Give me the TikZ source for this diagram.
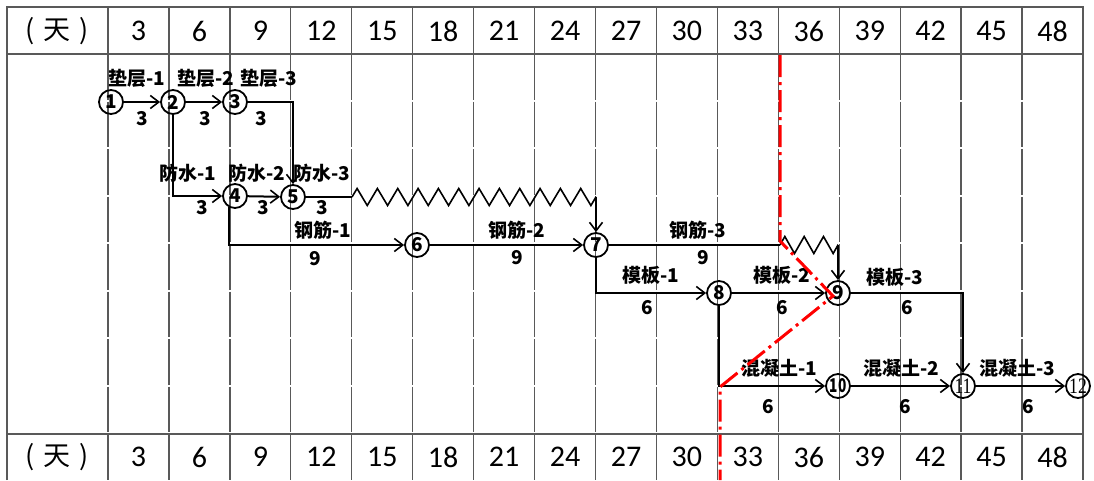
\documentclass[tikz,border=0pt]{standalone}
\usepackage{fontspec}
\usepackage{graphicx}
\newfontfamily\cjk{Noto Sans CJK SC}
\newfontfamily\hdr{Carlito}
\newfontfamily\nserif{Liberation Serif}
\usetikzlibrary{arrows.meta,decorations.pathmorphing}
\begin{document}
\begin{tikzpicture}[x=1pt,y=-1pt,
  grid/.style={draw=black!65, line width=1.3pt},
  bodygrid/.style={grid, dash pattern=on 45.5pt off 2pt},
  conn/.style={line width=2pt, black},
  arr/.style={conn, -{Straight Barb[length=8.5pt,width=13pt,line width=1.6pt]}},
  ev/.style={circle, draw, line width=1.8pt, minimum size=24pt, inner sep=0pt, font=\cjk\bfseries\fontsize{19}{19}\selectfont},
  lab/.style={inner sep=0pt, font=\cjk\bfseries\fontsize{19}{19}\selectfont},
  hd/.style={inner sep=0pt, font=\hdr\fontsize{30}{30}\selectfont},
  hdz/.style={inner sep=0pt, font=\cjk\fontsize{27}{27}\selectfont},
  wave/.style={line width=1.6pt, decorate, decoration={zigzag, amplitude=8.5pt, segment length=#1}},
  crit/.style={red, line width=3pt, dash pattern=on 22pt off 5pt on 3pt off 5pt}
]
\useasboundingbox (0,0) rectangle (1094,480);
% grid
\draw[grid] (7,480) -- (7,7) -- (1083,7) -- (1083,480);
\draw[grid] (7,54) -- (1083,54);
\draw[grid] (7,434) -- (1083,434);
\foreach \k in {0,...,15}{
  \draw[grid] ({108+60.9375*\k},7) -- ({108+60.9375*\k},54);
  \draw[bodygrid] ({108+60.9375*\k},54) -- ({108+60.9375*\k},434);
  \draw[grid] ({108+60.9375*\k},434) -- ({108+60.9375*\k},480);
}
% headers
\node[hdz] (ht) at (57,31) {(\hspace{9pt}天\hspace{9pt})};
\node[hdz] (hb) at (57,457) {(\hspace{9pt}天\hspace{9pt})};
\foreach \v [count=\k from 0] in {3,6,...,48}{
  \node[hd] (t\v) at ({138.5+60.9375*\k},31) {\v};
  \node[hd] (b\v) at ({138.5+60.9375*\k},457) {\v};
}
% events
\node[ev] (n1) at (111,102) {1};
\node[ev] (n2) at (173,102) {2};
\node[ev] (n3) at (235,102) {3};
\node[ev] (n4) at (235,196) {4};
\node[ev] (n5) at (293,197) {5};
\node[ev] (n6) at (417,245) {6};
\node[ev] (n7) at (596,245) {7};
\node[ev] (n8) at (719,293) {8};
\node[ev] (n9) at (838,293) {9};
\node[ev] (n10) at (838,386) {\scalebox{0.72}[1]{10}};
\node[ev] (n11) at (963,386) {\nserif\mdseries\fontsize{22}{22}\selectfont\scalebox{0.8}[1]{11}};
\node[ev] (n12) at (1078,386) {\nserif\mdseries\fontsize{22}{22}\selectfont\scalebox{0.8}[1]{12}};
% auxiliary points
\coordinate (w1) at (352,197);
\coordinate (w2) at (596,197);
\coordinate (w3) at (780,245);
\coordinate (w4) at (838,245);
% connectors
\draw[arr] (n1) -- (n2);
\draw[arr] (n2) -- (n3);
\draw[arr] (n3) -| (n5);
\draw[arr] (n2) |- (n4);
\draw[arr] (n4) -- (n5);
\draw[conn] (n5) -- (w1);
\draw[wave=20.33pt] (w1) -- (w2);
\draw[arr] (w2) -- (n7);
\draw[arr] (n4.240) |- (n6);
\draw[arr] (n6) -- (n7);
\draw[conn] (n7) -- (w3);
\draw[wave=19.33pt] (w3) -- (w4);
\draw[arr] (w4) -- (n9);
\draw[arr] (n7) |- (n8);
\draw[arr] (n8) -- (n9);
\draw[arr] (n9) -| (n11);
\draw[arr] (n8) |- (n10);
\draw[arr] (n10) -- (n11);
\draw[arr] (n11) -- (n12);
% labels
\node[lab] (a1) at (137,78) {垫层-1};
\node[lab] (a2) at (206,78) {垫层-2};
\node[lab] (a3) at (269,78) {垫层-3};
\node[lab] (a4) at (188,173) {防水-1};
\node[lab] (a5) at (257,173) {防水-2};
\node[lab] (a6) at (322,173) {防水-3};
\node[lab] (a7) at (323,230) {钢筋-1};
\node[lab] (a8) at (517,230) {钢筋-2};
\node[lab] (a9) at (698,230) {钢筋-3};
\node[lab] (a10) at (651,275) {模板-1};
\node[lab] (a11) at (782,275) {模板-2};
\node[lab] (a12) at (895,277) {模板-3};
\node[lab] (a13) at (779,368) {混凝土-1};
\node[lab] (a14) at (901,368) {混凝土-2};
\node[lab] (a15) at (1017,368) {混凝土-3};
% durations
\node[lab] (d1) at (142,119) {3};
\node[lab] (d2) at (205,119) {3};
\node[lab] (d3) at (261,119) {3};
\node[lab] (d4) at (202,208) {3};
\node[lab] (d5) at (263,208) {3};
\node[lab] (d6) at (322,208) {3};
\node[lab] (d7) at (315,259) {9};
\node[lab] (d8) at (517,258) {9};
\node[lab] (d9) at (703,258) {9};
\node[lab] (d10) at (647,308) {6};
\node[lab] (d11) at (782,308) {6};
\node[lab] (d12) at (907,308) {6};
\node[lab] (d13) at (768,407) {6};
\node[lab] (d14) at (905,407) {6};
\node[lab] (d15) at (1028,407) {6};
% check line
\coordinate (r1) at (780,55);
\coordinate (r2) at (780,241);
\coordinate (r3) at (833,296);
\coordinate (r4) at (720,387);
\coordinate (r5) at (720,480);
\draw[crit] (r1) -- (r2) -- (r3) -- (r4) -- (r5);
\end{tikzpicture}
\end{document}
